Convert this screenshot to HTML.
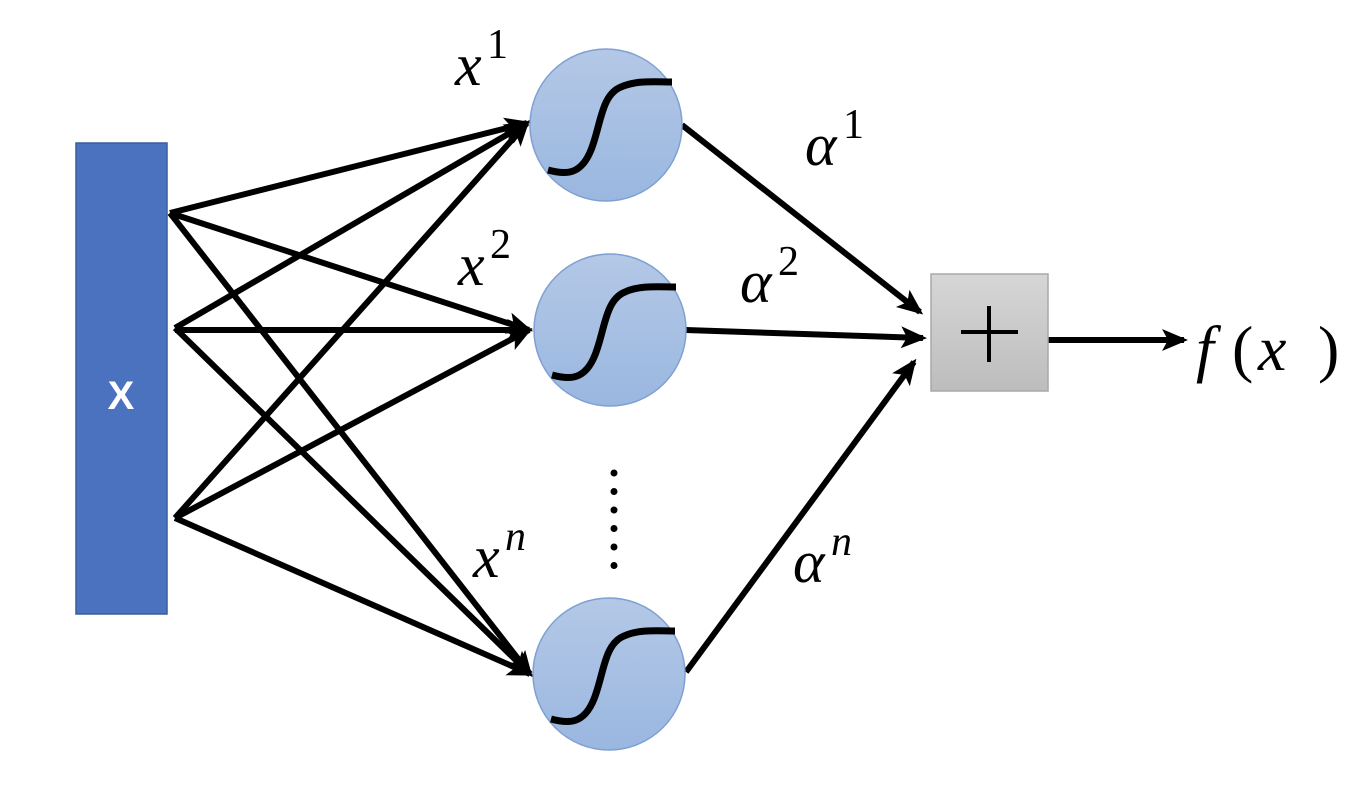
<!DOCTYPE html>
<html><head><meta charset="utf-8"><style>html,body{margin:0;padding:0;background:#fff}svg{display:block}
.m{font-family:"Liberation Serif","DejaVu Serif",serif;font-style:italic;fill:#000}
.n{font-style:normal}</style></head>
<body>
<svg width="1372" height="788" viewBox="0 0 1372 788" xmlns="http://www.w3.org/2000/svg">
<defs>
<marker id="a" markerWidth="40" markerHeight="40" refX="0" refY="0" orient="auto" markerUnits="userSpaceOnUse" viewBox="-30 -20 40 40" style="overflow:visible">
<path d="M-22,-11 L4,0 L-22,11 L-16,0 Z" fill="#000"/>
</marker>
<linearGradient id="g" x1="0" y1="0" x2="0" y2="1"><stop offset="0" stop-color="#d6d6d6"/><stop offset="1" stop-color="#bdbdbd"/></linearGradient>
<linearGradient id="c" x1="0" y1="0" x2="0" y2="1"><stop offset="0" stop-color="#b4c8e6"/><stop offset="1" stop-color="#9ab7e0"/></linearGradient>
<g id="sig"><circle cx="0" cy="0" r="76" fill="url(#c)" stroke="#7ea0d2" stroke-width="1.5"/><path d="M-58,45 C-40,50 -25,50 -15,25 C-5,0 -5,-30 15,-38 C30,-45 50,-43 66,-43" fill="none" stroke="#000" stroke-width="7"/></g>
</defs>
<rect x="76" y="143" width="91" height="471" fill="#4a72be" stroke="#3a5c9e" stroke-width="1.5"/>
<text x="121" y="409" style="font-family:'Liberation Sans',sans-serif;font-weight:bold" font-size="40" fill="#fff" text-anchor="middle">X</text>
<g stroke="#000" stroke-width="6" fill="none">
<line x1="170" y1="213" x2="527" y2="123" marker-end="url(#a)"/>
<line x1="170" y1="213" x2="529" y2="330" marker-end="url(#a)"/>
<line x1="170" y1="213" x2="530" y2="674" marker-end="url(#a)"/>
<line x1="175" y1="328" x2="527" y2="123" marker-end="url(#a)"/>
<line x1="175" y1="330" x2="529" y2="330" marker-end="url(#a)"/>
<line x1="175" y1="328" x2="530" y2="674" marker-end="url(#a)"/>
<line x1="175" y1="518" x2="527" y2="123" marker-end="url(#a)"/>
<line x1="175" y1="518" x2="529" y2="330" marker-end="url(#a)"/>
<line x1="175" y1="518" x2="530" y2="674" marker-end="url(#a)"/>
<line x1="682" y1="125" x2="920" y2="312" marker-end="url(#a)"/>
<line x1="686" y1="330" x2="923" y2="338" marker-end="url(#a)"/>
<line x1="686" y1="672" x2="914" y2="362" marker-end="url(#a)"/>
<line x1="1048" y1="340" x2="1184" y2="340" marker-end="url(#a)"/>
</g>
<use href="#sig" x="606" y="125"/>
<use href="#sig" x="610" y="330"/>
<use href="#sig" x="609" y="674"/>
<rect x="931" y="274" width="117" height="117" fill="url(#g)" stroke="#a8a8a8" stroke-width="1.5"/>
<line x1="961" y1="332" x2="1018" y2="332" stroke="#000" stroke-width="4"/>
<line x1="989" y1="306" x2="989" y2="362" stroke="#000" stroke-width="4"/>
<line x1="614" y1="473" x2="614" y2="570" stroke="#000" stroke-width="7" stroke-linecap="round" stroke-dasharray="0 18.5"/>
<g class="m">
<text x="455" y="85" font-size="60">x</text><text x="487" y="58" font-size="42" class="n">1</text>
<text x="458" y="285" font-size="60">x</text><text x="490" y="258" font-size="42" class="n">2</text>
<text x="473" y="577" font-size="60">x</text><text x="505" y="550" font-size="42">n</text>
<text x="805" y="165" font-size="60">α</text><text x="843" y="138" font-size="42" class="n">1</text>
<text x="740" y="302" font-size="60">α</text><text x="778" y="275" font-size="42" class="n">2</text>
<text x="793" y="582" font-size="60">α</text><text x="831" y="555" font-size="42">n</text>
<text x="1196" y="370" font-size="64">f</text><text x="1232" y="370" font-size="64" class="n">(</text><text x="1258" y="370" font-size="64">x</text><text x="1318" y="370" font-size="64" class="n">)</text>
</g>
</svg>
</body></html>
